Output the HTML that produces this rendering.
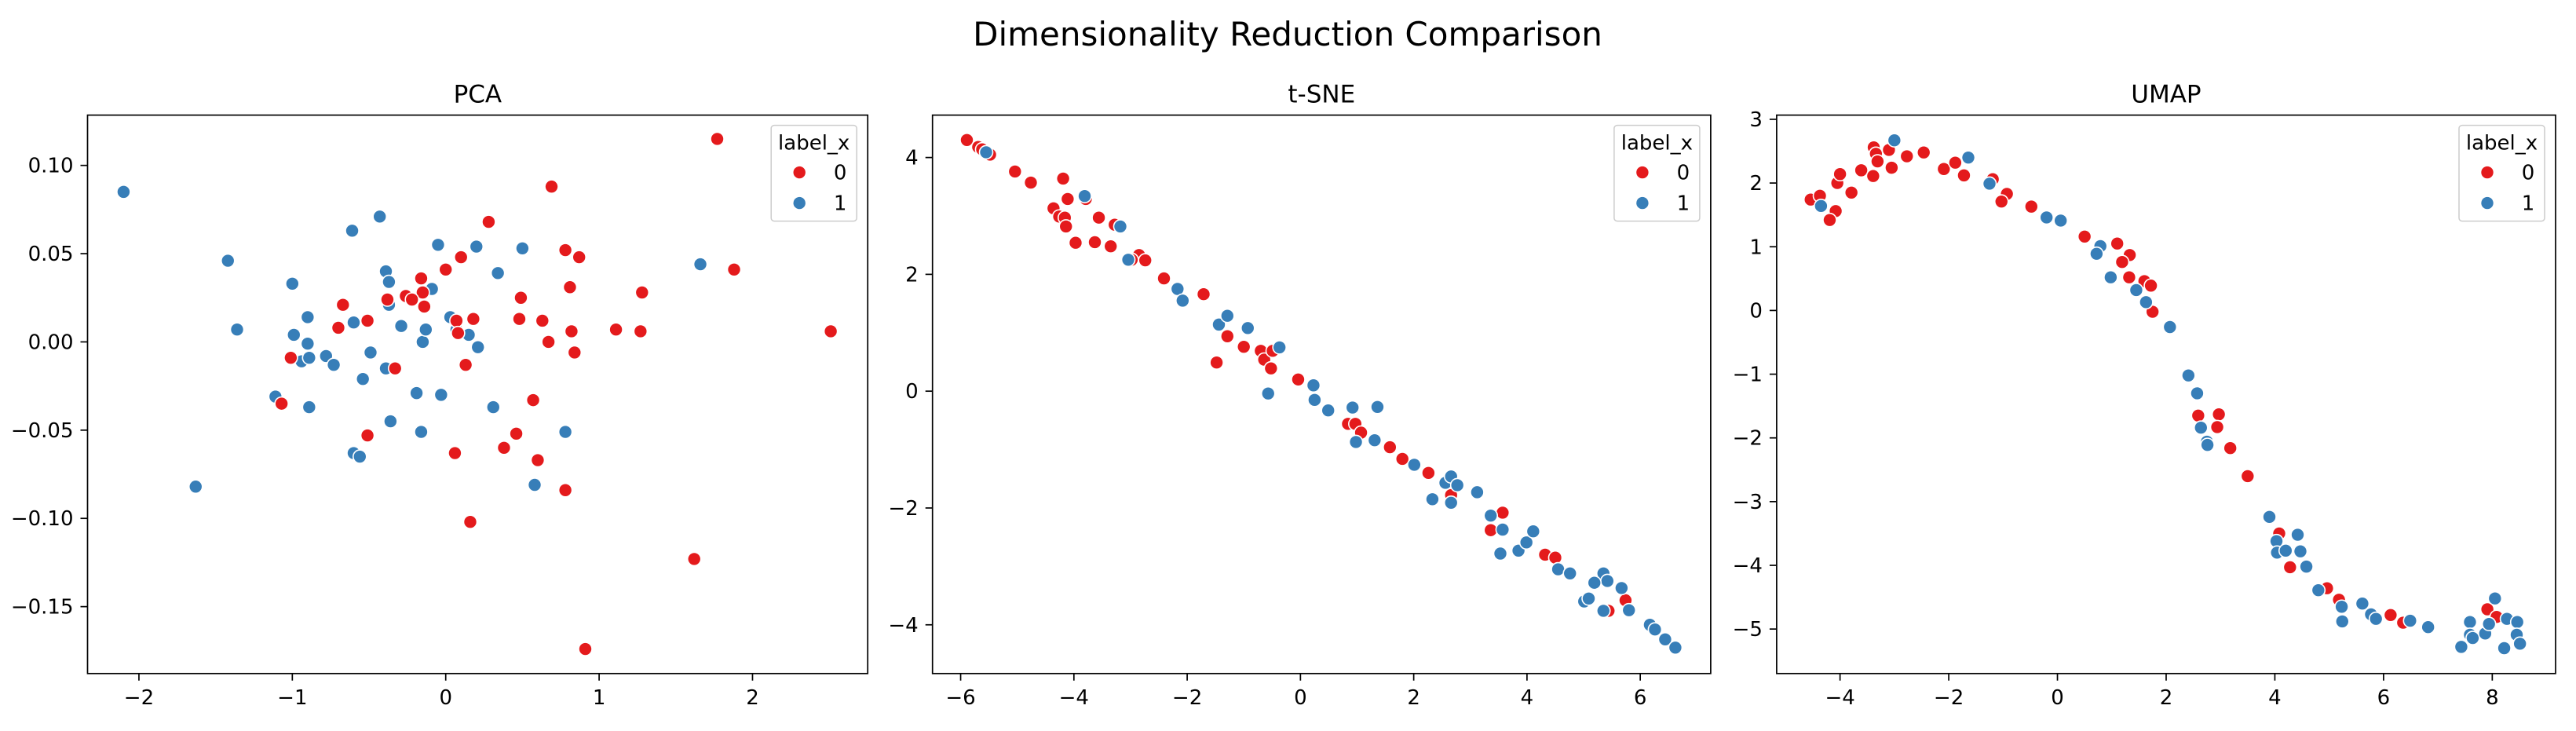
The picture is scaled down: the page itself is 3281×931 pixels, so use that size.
<!DOCTYPE html>
<html><head><meta charset="utf-8"><style>
html,body{margin:0;padding:0;background:#fff}
svg{display:block;font-family:"DejaVu Sans","Liberation Sans",sans-serif}
</style></head><body>
<svg id="fig" width="3281" height="931" viewBox="0 0 3281 931" xmlns="http://www.w3.org/2000/svg">
<rect width="3281" height="931" fill="#fff"/>
<text x="1640" y="58" font-size="42" text-anchor="middle" fill="#000">Dimensionality Reduction Comparison</text>
</svg>
<script>
const pcaXTicks=[-2,-1,0,1,2];
const pcaYTicks=[-0.15,-0.10,-0.05,0.00,0.05,0.10];
const pcaYTickLabels=["−0.15","−0.10","−0.05","0.00","0.05","0.10"];
const pcaBlueX=[-2.10,-1.42,-1.36,-1.63,-1.00,-0.99,-0.90,-0.90,-0.94,-0.89,-0.78,-0.73,-1.11,-0.89,-0.61,-0.43,-0.60,-0.49,-0.54,-0.60,-0.56,-0.39,-0.37,-0.37,-0.29,-0.39,-0.36,-0.15,-0.13,-0.09,-0.05,-0.19,-0.16,-0.03,0.03,0.07,0.15,0.21,0.20,0.34,0.31,0.50,0.78,0.58,1.66];
const pcaBlueY=[0.085,0.046,0.007,-0.082,0.033,0.004,0.014,-0.001,-0.011,-0.009,-0.008,-0.013,-0.031,-0.037,0.063,0.071,0.011,-0.006,-0.021,-0.063,-0.065,0.040,0.034,0.021,0.009,-0.015,-0.045,0.000,0.007,0.030,0.055,-0.029,-0.051,-0.030,0.014,0.007,0.004,-0.003,0.054,0.039,-0.037,0.053,-0.051,-0.081,0.044];
const pcaRedX=[1.77,0.69,0.28,0.10,0.00,-0.16,-0.15,-0.26,-0.22,-0.38,-0.14,-0.67,-0.70,-0.51,-1.01,-1.07,-0.33,-0.51,0.07,0.18,0.08,0.13,0.06,0.16,0.78,0.87,0.81,0.49,0.48,0.63,0.67,0.82,0.84,0.57,0.46,0.38,0.60,0.78,1.11,1.27,1.28,1.88,1.62,0.91,2.51];
const pcaRedY=[0.115,0.088,0.068,0.048,0.041,0.036,0.028,0.026,0.024,0.024,0.020,0.021,0.008,0.012,-0.009,-0.035,-0.015,-0.053,0.012,0.013,0.005,-0.013,-0.063,-0.102,0.052,0.048,0.031,0.025,0.013,0.012,0.000,0.006,-0.006,-0.033,-0.052,-0.060,-0.067,-0.084,0.007,0.006,0.028,0.041,-0.123,-0.174,0.006];

const tsneXTicks=[-6,-4,-2,0,2,4,6];
const tsneYTicks=[-4,-2,0,2,4];
const tsneRedX=[-5.89,-5.69,-5.62,-5.48,-5.04,-4.76,-4.19,-4.11,-3.79,-4.36,-4.26,-4.16,-4.14,-3.56,-3.28,-3.97,-3.63,-3.35,-2.85,-2.98,-2.74,-2.41,-1.71,-1.48,-1.29,-1.00,-0.70,-0.64,-0.49,-0.52,-0.04,0.84,0.97,1.07,1.58,1.80,2.26,2.66,3.36,3.57,4.32,4.50,5.74,5.44];
const tsneRedY=[4.30,4.18,4.14,4.05,3.76,3.57,3.64,3.29,3.29,3.13,2.99,2.97,2.82,2.97,2.85,2.54,2.55,2.48,2.33,2.25,2.24,1.93,1.66,0.49,0.94,0.76,0.69,0.54,0.69,0.39,0.20,-0.56,-0.56,-0.71,-0.96,-1.16,-1.40,-1.78,-2.38,-2.08,-2.80,-2.85,-3.58,-3.76];
const tsneBlueX=[-5.55,-3.81,-3.18,-3.04,-2.17,-2.08,-1.44,-1.29,-0.93,-0.37,-0.57,0.23,0.25,0.49,0.92,1.36,0.98,1.31,2.01,2.56,2.66,2.77,2.33,2.66,3.12,3.36,3.57,3.53,3.85,3.99,4.11,4.55,4.76,5.35,5.42,5.19,5.01,5.09,5.67,5.35,5.80,6.17,6.26,6.44,6.62];
const tsneBlueY=[4.09,3.34,2.82,2.25,1.75,1.55,1.14,1.29,1.08,0.75,-0.04,0.10,-0.15,-0.33,-0.28,-0.27,-0.87,-0.84,-1.26,-1.57,-1.46,-1.61,-1.85,-1.91,-1.73,-2.13,-2.37,-2.78,-2.73,-2.59,-2.40,-3.05,-3.12,-3.12,-3.25,-3.28,-3.60,-3.55,-3.37,-3.76,-3.75,-4.00,-4.08,-4.25,-4.39];

const umapXTicks=[-4,-2,0,2,4,6,8];
const umapYTicks=[-5,-4,-3,-2,-1,0,1,2,3];
const umapRedX=[-4.54,-4.37,-4.08,-4.19,-4.05,-4.00,-3.79,-3.61,-3.39,-3.38,-3.34,-3.31,-3.10,-3.05,-2.77,-2.46,-2.09,-1.88,-1.72,-1.19,-0.93,-1.03,-0.48,0.50,1.10,1.33,1.19,1.32,1.60,1.72,1.75,2.59,2.97,2.94,3.18,3.50,4.08,4.28,4.96,5.18,6.13,6.36,7.91,8.08];
const umapRedY=[1.74,1.80,1.56,1.42,2.00,2.14,1.85,2.20,2.11,2.56,2.46,2.34,2.52,2.24,2.42,2.48,2.22,2.32,2.12,2.06,1.83,1.71,1.63,1.16,1.05,0.87,0.76,0.52,0.46,0.39,-0.02,-1.65,-1.63,-1.83,-2.16,-2.60,-3.50,-4.03,-4.36,-4.54,-4.78,-4.90,-4.69,-4.81];
const umapBlueX=[-4.35,-3.00,-1.64,-1.25,-0.20,0.06,0.79,0.72,0.98,1.45,1.63,2.07,2.41,2.57,2.64,2.75,2.76,3.90,4.03,4.04,4.20,4.42,4.47,4.58,4.80,5.23,5.24,5.61,5.77,5.86,6.49,6.82,7.43,7.59,7.59,7.64,7.87,7.94,8.05,8.22,8.27,8.46,8.45,8.51];
const umapBlueY=[1.64,2.67,2.40,1.99,1.46,1.41,1.01,0.89,0.52,0.32,0.13,-0.26,-1.02,-1.30,-1.84,-2.06,-2.11,-3.24,-3.62,-3.80,-3.77,-3.52,-3.78,-4.02,-4.39,-4.65,-4.88,-4.60,-4.77,-4.84,-4.87,-4.97,-5.28,-4.89,-5.09,-5.14,-5.07,-4.92,-4.52,-5.30,-4.84,-4.89,-5.09,-5.23];

const NS='http://www.w3.org/2000/svg';
const svg=document.getElementById('fig');
const RED='#e41a1c', BLUE='#377eb8';
function mk(tag,attrs,parent){const e=document.createElementNS(NS,tag);for(const k in attrs)e.setAttribute(k,attrs[k]);(parent||svg).appendChild(e);return e;}

function panel(key,title,box,xr,yr,xTicks,xLabels,yTicks,yLabels,series){
  const g=mk('g',{});
  
  
  const sx=v=>box.l+(v-xr[0])/(xr[1]-xr[0])*(box.r-box.l);
  const sy=v=>box.b-(v-yr[0])/(yr[1]-yr[0])*(box.b-box.t);
  const t=mk('text',{x:(box.l+box.r)/2,y:box.t-16,'font-size':31,'text-anchor':'middle',fill:'#000'},g);
  t.textContent=title;
  
  
  xTicks.forEach((v,i)=>{
    const x=sx(v);
    const l=mk('line',{x1:x,x2:x,y1:box.b,y2:box.b+9,stroke:'#000','stroke-width':1.7},g);
    
    
    const tx=mk('text',{x:x,y:box.b+39,'font-size':26,'text-anchor':'middle',fill:'#000'},g);
    tx.textContent=xLabels[i];
    
    
  });
  yTicks.forEach((v,i)=>{
    const y=sy(v);
    const l=mk('line',{x1:box.l-9,x2:box.l,y1:y,y2:y,stroke:'#000','stroke-width':1.7},g);
    
    
    const ty=mk('text',{x:box.l-18,y:y+9,'font-size':26,'text-anchor':'end',fill:'#000'},g);
    ty.textContent=yLabels[i];
    
    
  });
  series.forEach(s=>{
    s.x.forEach((xv,i)=>{
      const c=mk('circle',{cx:sx(xv),cy:sy(s.y[i]),r:8.5,fill:s.color,stroke:'#fff','stroke-width':1.6},g);
      
      
    });
  });
  const fr=mk('rect',{x:box.l,y:box.t,width:box.r-box.l,height:box.b-box.t,fill:'none',stroke:'#000','stroke-width':1.7},g);
  
  
  const lg=mk('g',{},g);
  
  
  const lr=box.r-14, ll=lr-109, lt=box.t+13;
  mk('rect',{x:ll,y:lt,width:109,height:122,rx:4,fill:'#fff','fill-opacity':0.8,stroke:'#ccc','stroke-width':1.5},lg);
  const lt1=mk('text',{x:ll+54.5,y:lt+31,'font-size':26,'text-anchor':'middle',fill:'#000'},lg);
  lt1.textContent='label_x';
  
  
  [['0',RED,lt+60],['1',BLUE,lt+99]].forEach(([lab,col,y])=>{
    const e=mk('g',{},lg);
    
    
    mk('circle',{cx:ll+36,cy:y,r:8.5,fill:col,stroke:'#fff','stroke-width':1.6},e);
    const tt=mk('text',{x:ll+88,y:y+9,'font-size':26,'text-anchor':'middle',fill:'#000'},e);
    tt.textContent=lab;
  });
}
const T=146.6,B=857.8;
panel('pca','PCA',{l:111.5,r:1105.2,t:T,b:B},[-2.335,2.751],[-0.1879,0.1285],
  pcaXTicks,pcaXTicks.map(v=>v<0?'−'+(-v):String(v)),pcaYTicks,pcaYTickLabels,
  [{x:pcaBlueX,y:pcaBlueY,color:BLUE,label:'1'},{x:pcaRedX,y:pcaRedY,color:RED,label:'0'}]);
panel('tsne','t-SNE',{l:1187.7,r:2178.9,t:T,b:B},[-6.497,7.244],[-4.834,4.726],
  tsneXTicks,tsneXTicks.map(v=>v<0?'−'+(-v):String(v)),tsneYTicks,tsneYTicks.map(v=>v<0?'−'+(-v):String(v)),
  [{x:tsneRedX,y:tsneRedY,color:RED,label:'0'},{x:tsneBlueX,y:tsneBlueY,color:BLUE,label:'1'}]);
panel('umap','UMAP',{l:2262.9,r:3255,t:T,b:B},[-5.166,9.165],[-5.698,3.066],
  umapXTicks,umapXTicks.map(v=>v<0?'−'+(-v):String(v)),umapYTicks,umapYTicks.map(v=>v<0?'−'+(-v):String(v)),
  [{x:umapRedX,y:umapRedY,color:RED,label:'0'},{x:umapBlueX,y:umapBlueY,color:BLUE,label:'1'}]);
</script>
</body></html>
